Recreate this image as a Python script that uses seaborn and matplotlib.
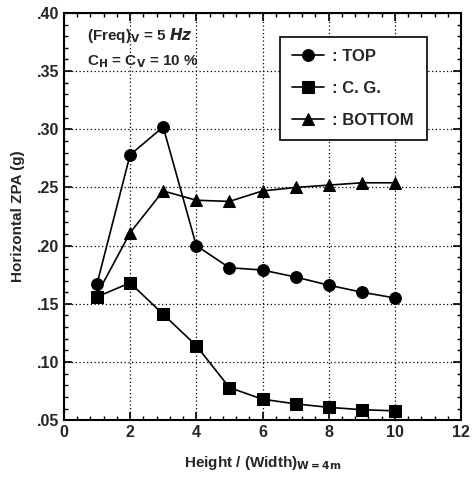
import numpy as np
import pandas as pd
import matplotlib
matplotlib.use("Agg")
import matplotlib.pyplot as plt
import seaborn as sns
from matplotlib.ticker import MultipleLocator, FuncFormatter

# 数据
ratio = [1, 2, 3, 4, 5, 6, 7, 8, 9, 10]
top = [0.167, 0.278, 0.302, 0.200, 0.181, 0.179, 0.173, 0.166, 0.160, 0.155]
cg = [0.156, 0.168, 0.141, 0.114, 0.078, 0.068, 0.064, 0.061, 0.059, 0.058]
bottom = [0.158, 0.211, 0.247, 0.239, 0.238, 0.247, 0.250, 0.252, 0.254, 0.254]

series = [(": TOP", top, "o"), (": C. G.", cg, "s"), (": BOTTOM", bottom, "^")]

sns.set_style("ticks")
plt.rcParams['font.family'] = ['Liberation Sans', 'DejaVu Sans']
plt.rcParams['font.weight'] = 'bold'
plt.rcParams['mathtext.default'] = 'bf'

fig = plt.figure(figsize=(4.73, 4.78), dpi=100)
ax = fig.add_axes([0.135, 0.121, 0.840, 0.852])

for label, vals, mk in series:
    df = pd.DataFrame({"x": ratio, "y": vals})
    sns.lineplot(data=df, x="x", y="y", ax=ax, color="black", lw=1.2,
                 marker=mk, markersize=8.5, markeredgecolor="black",
                 label=label)

ax.set_xlim(0, 12)
ax.set_ylim(0.05, 0.40)
ax.xaxis.set_major_locator(MultipleLocator(2))
ax.xaxis.set_minor_locator(MultipleLocator(0.4))
ax.yaxis.set_major_locator(MultipleLocator(0.05))
ax.yaxis.set_minor_locator(MultipleLocator(0.01))
ax.yaxis.set_major_formatter(FuncFormatter(lambda v, p: f"{v:.2f}".lstrip("0")))
ax.tick_params(which="both", direction="in", top=True, right=True, color="black")
ax.tick_params(which="major", length=6, width=1.2, labelsize=11.5)
ax.tick_params(which="minor", length=3, width=1)
ax.grid(True, which="major", linestyle=(0, (1, 2)), color="black", lw=0.9)
for s in ax.spines.values():
    s.set_linewidth(1.5)
    s.set_color("black")

ax.set_xlabel("Height / (Width)$_{W{=}4m}$", fontsize=11, fontweight="bold", labelpad=10)
ax.set_ylabel("Horizontal ZPA (g)", fontsize=11, fontweight="bold", labelpad=8)

ax.text(0.7, 0.381, "(Freq)$_V$ = 5 $\\mathit{Hz}$", fontsize=11, fontweight="bold",
        va="center")
ax.text(0.7, 0.358, "C$_H$ = C$_V$ = 10 %", fontsize=11, fontweight="bold", va="center")

leg = ax.legend(loc="upper right", bbox_to_anchor=(0.934, 0.962), fancybox=False,
                framealpha=1, edgecolor="black", fontsize=12, handlelength=1.9,
                borderpad=0.75, labelspacing=1.0, handletextpad=0.5)
leg.get_frame().set_linewidth(1.2)

fig.savefig("out.png", dpi=100)
